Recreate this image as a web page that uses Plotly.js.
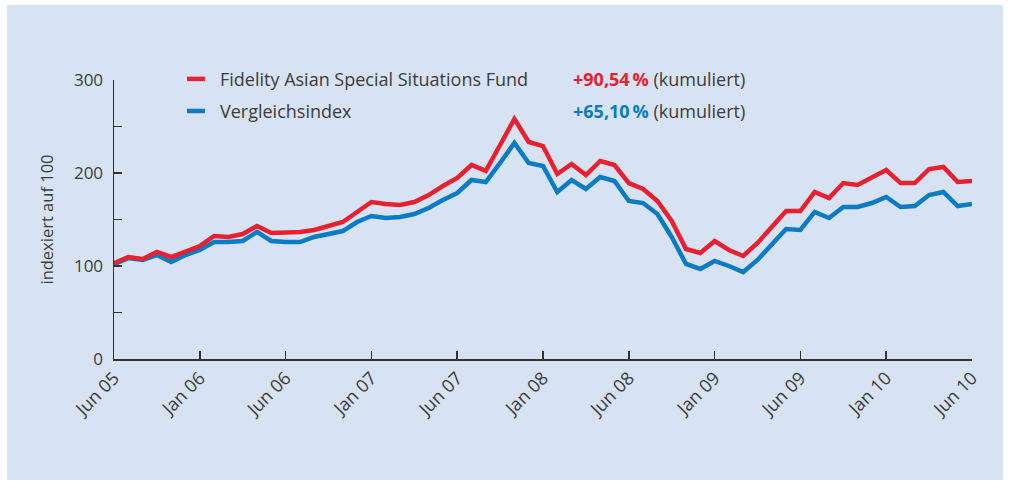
<!DOCTYPE html>
<html>
<head>
<meta charset="utf-8">
<script src="https://cdn.plot.ly/plotly-3.0.1.min.js"></script>
<style>
  html, body { margin: 0; padding: 0; background: #ffffff; }
  #chart { position: absolute; left: 7px; top: 5px; width: 996px; height: 475px; }
</style>
</head>
<body>
<div id="chart"></div>
<script>
// Monthly index values, Jun 05 .. Jun 10 (61 points)
const months = Array.from({length: 61}, (_, i) => i);
const fundValues = [
  103, 109.7, 107.5, 115.1, 109.7, 116.1, 121.5, 132.3, 131.2, 134.4,
  143, 135.5, 135.5, 136.6, 138.7, 143, 147.3, 158.1, 168.8, 166.7,
  165.6, 168.8, 176.3, 186, 194.6, 208.6, 202.2, 230.1, 258.1, 233.3,
  229, 198.9, 209.7, 197.8, 212.9, 208.6, 189.2, 182.8, 169.9, 148.4,
  118.3, 114, 126.9, 117.2, 110.8, 124.7, 141.9, 159.1, 159.1, 179.6,
  173.1, 189.2, 187.1, 195.7, 203.2, 189.2, 189.2, 204.3, 206.5, 190.3,
  191.4
];
const indexValues = [
  102, 108.5, 106.5, 111.8, 104.3, 111.8, 117.2, 125.8, 125.8, 126.9,
  136.6, 126.9, 125.8, 125.8, 131.2, 134.4, 137.6, 147.3, 153.8, 151.6,
  152.7, 155.9, 162.4, 171, 178.5, 192.5, 190.3, 210.8, 232.3, 210.8,
  207.5, 179.6, 192.5, 182.8, 195.7, 191.4, 169.9, 167.7, 155.9, 131.2,
  102.2, 96.8, 105.4, 100, 93.5, 106.5, 122.6, 139.8, 138.7, 158.1,
  151.6, 163.4, 163.4, 167.7, 174.2, 163.4, 164.5, 176.3, 179.6, 164.5,
  166.7
];
const xTickVals = [0, 6, 12, 18, 24, 30, 36, 42, 48, 54, 60];
const xTickText = ['Jun 05', 'Jan 06', 'Jun 06', 'Jan 07', 'Jun 07', 'Jan 08', 'Jun 08', 'Jan 09', 'Jun 09', 'Jan 10', 'Jun 10'];
const yTickVals = [0, 50, 100, 150, 200, 250, 300];
const yTickText = ['0', '', '100', '', '200', '', '300'];
const seriesNames = ['Fidelity Asian Special Situations Fund', 'Vergleichsindex'];
const seriesReturns = ['+90,54\u2009%', '+65,10\u2009%'];

const RED = '#e8202f';
const BLUE = '#0a7bc4';
const TXT = '#3c3c3c';
const FONT = 'Open Sans, sans-serif';

const traces = [
  { x: months, y: indexValues, type: 'scatter', mode: 'lines', name: seriesNames[1],
    line: { color: BLUE, width: 4.5 }, showlegend: false, hoverinfo: 'skip' },
  { x: months, y: fundValues, type: 'scatter', mode: 'lines', name: seriesNames[0],
    line: { color: RED, width: 4.5 }, showlegend: false, hoverinfo: 'skip' }
];

// legend built from annotations + short swatch lines (paper coords)
const rowsY = [1.004, 0.889];
const colors = [RED, BLUE];
const shapes = [];
const annotations = [];
for (let k = 0; k < 2; k++) {
  shapes.push({ type: 'line', xref: 'paper', yref: 'paper',
    x0: 0.0851, x1: 0.1061, y0: rowsY[k], y1: rowsY[k],
    line: { color: colors[k], width: 4.5 } });
  annotations.push({ xref: 'paper', yref: 'paper', x: 0.1212, y: rowsY[k],
    xanchor: 'left', yanchor: 'middle', showarrow: false,
    text: seriesNames[k], font: { family: FONT, size: 18, color: TXT } });
  annotations.push({ xref: 'paper', yref: 'paper', x: 0.7378, y: rowsY[k],
    xanchor: 'right', yanchor: 'middle', showarrow: false,
    text: '<b><span style="color:' + colors[k] + '">' + seriesReturns[k] + '</span></b> (kumuliert)',
    font: { family: FONT, size: 18, color: TXT } });
}

const layout = {
  width: 996, height: 475,
  paper_bgcolor: '#d7e3f3', plot_bgcolor: '#d7e3f3',
  margin: { l: 107, r: 31, t: 75, b: 121 },
  font: { family: FONT, color: TXT },
  showlegend: false,
  xaxis: {
    range: [0, 60], tickmode: 'array', tickvals: xTickVals, ticktext: xTickText,
    tickangle: -45, ticks: 'inside', ticklen: 8, tickwidth: 1.5, tickcolor: '#333',
    showline: true, linecolor: '#333', linewidth: 1.5, showgrid: false, zeroline: false,
    tickfont: { family: FONT, size: 18, color: TXT }
  },
  yaxis: {
    range: [0, 300], tickmode: 'array', tickvals: yTickVals, ticktext: yTickText,
    ticks: 'inside', ticklen: 8, tickwidth: 1.5, tickcolor: '#333',
    showline: true, linecolor: '#333', linewidth: 1.5, showgrid: false, zeroline: false,
    tickfont: { family: FONT, size: 17, color: TXT },
    ticklabelstandoff: 6,
    title: { text: 'indexiert auf 100', font: { family: FONT, size: 16.5, color: TXT }, standoff: 16 }
  },
  shapes: shapes,
  annotations: annotations
};

Plotly.newPlot('chart', traces, layout, { displayModeBar: false, staticPlot: true });
</script>
</body>
</html>
